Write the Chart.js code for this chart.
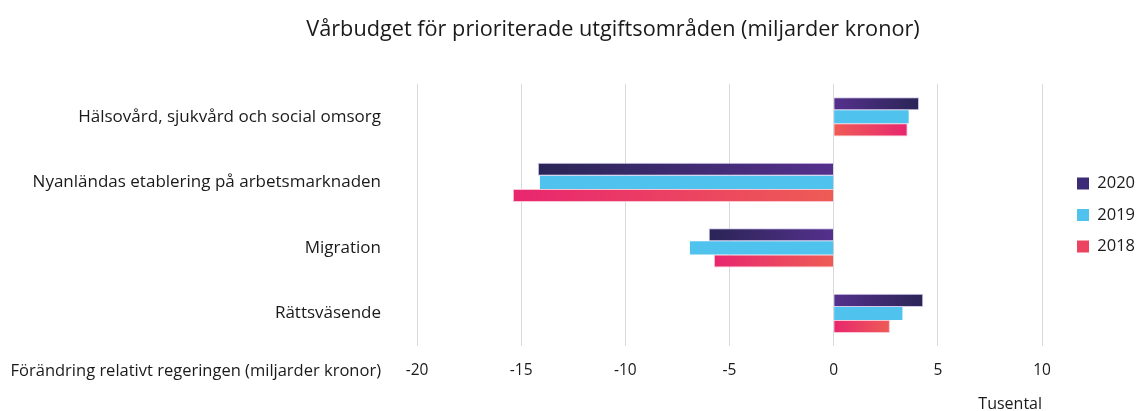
<!DOCTYPE html>
<html>
<head>
<meta charset="utf-8">
<script src="https://cdn.jsdelivr.net/npm/chart.js@4"></script>
<style>
  body { margin: 0; background: #fff; }
  #wrap { width: 1137px; height: 411px; }
</style>
</head>
<body>
<div id="wrap"><canvas id="barChart" width="1137" height="411"></canvas></div>
<script>
// ----- data -----
const categories = [
    'Hälsovård, sjukvård och social omsorg',
    'Nyanländas etablering på arbetsmarknaden',
    'Migration',
    'Rättsväsende'
];
const seriesNames = ['2020', '2019', '2018'];
const values2020 = [4.1, -14.2, -6.0, 4.3];
const values2019 = [3.6, -14.1, -6.9, 3.3];
const values2018 = [3.55, -15.4, -5.75, 2.7];
const xMin = -20, xMax = 10, xStep = 5;

const FONT = "'Open Sans', sans-serif";
const TEXT = '#1a1a1a';

// gradient running from the zero line to the bar end
function barGradient(atZero, atEnd, flipIdx) {
    return (ctx) => {
        const chart = ctx.chart;
        const x = chart.scales.x;
        if (!chart.chartArea || !x || ctx.type !== 'data') return atZero;
        const p0 = x.getPixelForValue(0);
        const p1 = x.getPixelForValue(ctx.raw);
        if (p0 === p1) return atZero;
        const g = chart.ctx.createLinearGradient(p0, 0, p1, 0);
        const flip = flipIdx && flipIdx.includes(ctx.dataIndex);
        g.addColorStop(0, flip ? atEnd : atZero);
        g.addColorStop(1, flip ? atZero : atEnd);
        return g;
    };
}

const legendColors = ['#3d2a76', '#4fc3ed', '#ec4460'];
const LEGEND_PAD = 15;
const PAD_LEFT = 101;   // pushes the title centre right, like the original

// caption on the tick row, legend nudged away from the plot,
// y labels allowed to run into the left padding
const extrasPlugin = {
    id: 'extras',
    afterLayout(chart) {
        const lg = chart.legend;
        if (lg) {
            lg.left = chart.chartArea.right + 35 - LEGEND_PAD;
            lg.right = chart.width;
            lg.width = lg.right - lg.left;
        }
        chart.scales.y.left = 0;
    },
    afterDraw(chart) {
        const c = chart.ctx;
        const y = chart.scales.y;
        c.save();
        c.font = '16.5px ' + FONT;
        c.fillStyle = TEXT;
        c.textAlign = 'right';
        c.textBaseline = 'middle';
        c.fillText('Förändring relativt regeringen (miljarder kronor)', y.right - 36, chart.chartArea.bottom + 25);
        c.restore();
    }
};

new Chart(document.getElementById('barChart').getContext('2d'), {
    type: 'bar',
    data: {
        labels: categories,
        datasets: [
            {
                label: seriesNames[0],
                data: values2020,
                backgroundColor: barGradient('#55308d', '#2a2556'),
                borderColor: 'rgba(205,195,235,0.9)',
                borderWidth: 1
            },
            {
                label: seriesNames[1],
                data: values2019,
                backgroundColor: '#4fc3ed',
                borderWidth: 0
            },
            {
                label: seriesNames[2],
                data: values2018,
                backgroundColor: barGradient('#ee5c55', '#e8266f', [3]),
                borderColor: 'rgba(250,190,205,0.9)',
                borderWidth: 1
            }
        ]
    },
    options: {
        indexAxis: 'y',
        responsive: false,
        animation: false,
        layout: { padding: { left: PAD_LEFT, right: 12, bottom: -3 } },
        datasets: { bar: { categoryPercentage: 0.6, barPercentage: 1.0 } },
        plugins: {
            title: {
                display: true,
                text: 'Vårbudget för prioriterade utgiftsområden (miljarder kronor)',
                color: TEXT,
                font: { family: FONT, size: 21.7, weight: 'normal' },
                padding: { top: 17, bottom: 41 }
            },
            legend: {
                position: 'right',
                fullSize: false,
                labels: {
                    color: TEXT,
                    font: { family: FONT, size: 16.5 },
                    boxWidth: 12,
                    boxHeight: 12,
                    padding: LEGEND_PAD,
                    generateLabels: (chart) => chart.data.datasets.map((ds, i) => ({
                        text: ds.label,
                        fillStyle: legendColors[i],
                        strokeStyle: legendColors[i],
                        lineWidth: 0,
                        fontColor: TEXT,
                        datasetIndex: i
                    }))
                }
            },
            tooltip: { enabled: false }
        },
        scales: {
            x: {
                min: xMin,
                max: xMax,
                ticks: { stepSize: xStep, color: TEXT, font: { family: FONT, size: 15.5 }, padding: 15 },
                grid: { color: '#d9d9d9', drawTicks: false },
                border: { display: false },
                title: {
                    display: true,
                    text: 'Tusental',
                    align: 'end',
                    color: TEXT,
                    font: { family: FONT, size: 16 },
                    padding: { top: 0, bottom: 0 }
                }
            },
            y: {
                ticks: { color: TEXT, font: { family: FONT, size: 17 }, padding: 36 },
                grid: { display: false, drawTicks: false },
                border: { display: false },
                afterFit(scale) { scale.width = 417 - PAD_LEFT; }
            }
        }
    },
    plugins: [extrasPlugin]
});
</script>
</body>
</html>
